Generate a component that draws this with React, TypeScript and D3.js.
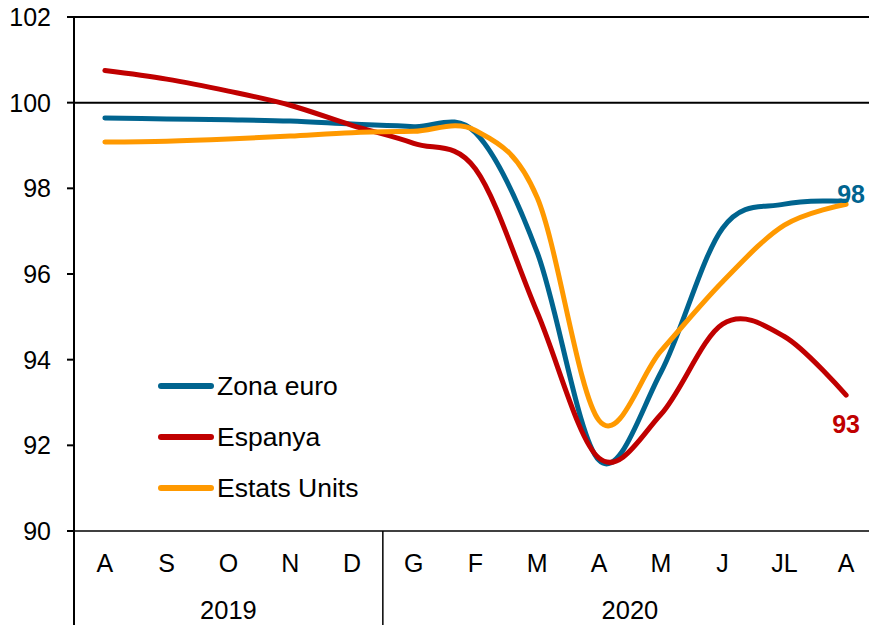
import React from "react";
import * as d3 from "d3";

const months = ["A", "S", "O", "N", "D", "G", "F", "M", "A", "M", "J", "JL", "A"];
const years = [
  { label: "2019", from: 0, to: 5 },
  { label: "2020", from: 5, to: 13 },
];
const zonaEuro = [99.64, 99.62, 99.6, 99.57, 99.5, 99.44, 99.3, 96.5, 91.65, 93.7, 97.07, 97.63, 97.7];
const espanya = [100.75, 100.55, 100.27, 99.94, 99.47, 99.05, 98.45, 95.1, 91.7, 92.72, 94.83, 94.54, 93.17];
const estatsUnits = [99.08, 99.1, 99.15, 99.22, 99.3, 99.33, 99.35, 97.78, 92.58, 94.2, 95.82, 97.14, 97.63];
const yTicks = [90, 92, 94, 96, 98, 100, 102];

const series = [
  { name: "Zona euro", values: zonaEuro, color: "#00648F", endLabel: "98" },
  { name: "Espanya", values: espanya, color: "#C00000", endLabel: "93" },
  { name: "Estats Units", values: estatsUnits, color: "#FF9900", endLabel: null },
];

const width = 869;
const height = 625;
const margin = { left: 74, right: -8, top: 17, bottom: 94 };
const font = "'Liberation Sans', Arial, sans-serif";

export default function App() {
  const x = d3
    .scaleBand<number>()
    .domain(months.map((_, i) => i))
    .range([margin.left, width - margin.right]);
  const y = d3
    .scaleLinear()
    .domain([90, 102])
    .range([height - margin.bottom, margin.top]);
  const cx = (i: number) => (x(i) as number) + x.bandwidth() / 2;

  // Excel-like smoothing
  const line = d3
    .line<number>()
    .x((_, i) => cx(i))
    .y((d) => y(d))
    .curve(d3.curveCatmullRom.alpha(0));

  const yBase = y(90);

  return (
    <svg
      width={width}
      height={height}
      style={{ position: "absolute", left: 0, top: 0, background: "#fff" }}
      fontFamily={font}
    >
      {/* horizontal lines at 100 and 102 */}
      <line x1={margin.left} x2={width} y1={y(102)} y2={y(102)} stroke="#000" strokeWidth={2} />
      <line x1={margin.left} x2={width} y1={y(100)} y2={y(100)} stroke="#000" strokeWidth={2} />
      {/* x axis */}
      <line x1={67} x2={width} y1={yBase} y2={yBase} stroke="#000" strokeWidth={1.3} />

      {/* y axis */}
      <line x1={margin.left} x2={margin.left} y1={y(102) - 1} y2={height} stroke="#000" strokeWidth={2} />
      {yTicks.map((t) => (
        <g key={t}>
          <line x1={67} x2={margin.left} y1={y(t)} y2={y(t)} stroke="#000" strokeWidth={2} />
          <text x={51} y={y(t) + 9} textAnchor="end" fontSize={25} fill="#000">
            {t}
          </text>
        </g>
      ))}

      {/* month labels */}
      {months.map((m, i) => (
        <text key={i} x={cx(i)} y={572} textAnchor="middle" fontSize={25} fill="#000">
          {m}
        </text>
      ))}
      {/* year groups */}
      {years.map((yr, i) => {
        const x0 = x(yr.from) as number;
        const x1 = yr.to < months.length ? (x(yr.to) as number) : width - margin.right;
        return (
          <g key={yr.label}>
            {i > 0 && <line x1={x0} x2={x0} y1={yBase} y2={height} stroke="#000" strokeWidth={1.5} />}
            <text x={(x0 + x1) / 2} y={619} textAnchor="middle" fontSize={25.5} fill="#000">
              {yr.label}
            </text>
          </g>
        );
      })}

      {/* series lines */}
      {series.map((s) => (
        <path
          key={s.name}
          d={line(s.values) || ""}
          fill="none"
          stroke={s.color}
          strokeWidth={5}
          strokeLinecap="round"
          strokeLinejoin="round"
        />
      ))}

      {/* end labels */}
      <text x={cx(12) + 5} y={y(zonaEuro[12]) + 2} textAnchor="middle" fontSize={25} fontWeight="bold" fill={series[0].color}>
        {series[0].endLabel}
      </text>
      <text x={cx(12)} y={y(espanya[12]) + 38} textAnchor="middle" fontSize={25} fontWeight="bold" fill={series[1].color}>
        {series[1].endLabel}
      </text>

      {/* legend */}
      {series.map((s, i) => {
        const ly = 386 + i * 51;
        return (
          <g key={s.name}>
            <line x1={161} x2={211} y1={ly} y2={ly} stroke={s.color} strokeWidth={6} strokeLinecap="round" />
            <text x={217} y={ly + 9} fontSize={26.5} fill="#000">
              {s.name}
            </text>
          </g>
        );
      })}
    </svg>
  );
}
